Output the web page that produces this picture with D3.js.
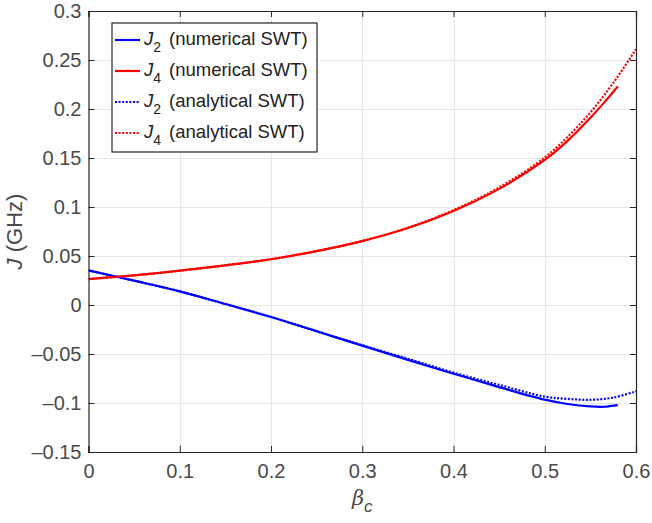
<!DOCTYPE html>
<html><head><meta charset="utf-8">
<script src="https://cdn.jsdelivr.net/npm/d3@7"></script>
<style>
html,body{margin:0;padding:0;background:#fff;}
svg{display:block;font-family:"Liberation Sans",Arial,Helvetica,sans-serif;}
</style></head>
<body><svg id="c" width="652" height="523"></svg>
<script>
// ---- data ----
const betaNum = [0,0.05,0.1,0.15,0.2,0.25,0.3,0.35,0.4,0.45,0.5,0.525,0.55,0.565,0.58];
const betaAna = [0,0.05,0.1,0.15,0.2,0.25,0.3,0.35,0.4,0.45,0.5,0.525,0.55,0.575,0.6];
const J2num = [0.0353,0.0248,0.0139,0.0010,-0.0122,-0.0268,-0.0415,-0.0560,-0.0701,-0.0838,-0.0966,-0.1010,-0.1035,-0.1038,-0.1022];
const J4num = [0.0265,0.0302,0.0350,0.0405,0.0467,0.0550,0.0652,0.0785,0.0960,0.1185,0.1480,0.1675,0.1910,0.2065,0.2230];
const J2ana = [0.0353,0.0248,0.0139,0.0010,-0.0122,-0.0267,-0.0410,-0.0548,-0.0690,-0.0815,-0.0935,-0.0958,-0.0967,-0.0945,-0.0880];
const J4ana = [0.0265,0.0302,0.0350,0.0405,0.0467,0.0550,0.0653,0.0788,0.0968,0.1200,0.1505,0.1715,0.1965,0.2265,0.2610];
const xTicks = [0,0.1,0.2,0.3,0.4,0.5,0.6];
const yTicks = [-0.15,-0.1,-0.05,0,0.05,0.1,0.15,0.2,0.25,0.3];
const seriesNames = ["numerical SWT","numerical SWT","analytical SWT","analytical SWT"];
const seriesSubs = ["2","4","2","4"];

// ---- layout ----
const L=88.5, R=636, T=11, B=452;
const x = d3.scaleLinear().domain([0,0.6]).range([L,R]);
const y = d3.scaleLinear().domain([-0.15,0.3]).range([B,T]);
const svg = d3.select("#c");
const axisCol = "#262626", txtCol = "#4a4a4a";

// grid
const g = svg.append("g");
g.selectAll(".vx").data(xTicks.slice(1,-1)).enter().append("line")
  .attr("x1",d=>Math.round(x(d))+0.5).attr("x2",d=>Math.round(x(d))+0.5)
  .attr("y1",T).attr("y2",B).attr("stroke","#e6e6e6").attr("stroke-width",1.2);
g.selectAll(".hy").data(yTicks.slice(1,-1)).enter().append("line")
  .attr("y1",d=>Math.round(y(d))+0.5).attr("y2",d=>Math.round(y(d))+0.5)
  .attr("x1",L).attr("x2",R).attr("stroke","#e6e6e6").attr("stroke-width",1.2);

// curves
const line = (bs, vs) => d3.line().curve(d3.curveCatmullRom.alpha(0.5))
  .x((d,i)=>x(bs[i])).y(d=>y(d))(vs);
const series = [
  {b:betaNum, v:J2num, c:"#0000ff", dash:null},
  {b:betaNum, v:J4num, c:"#ff0000", dash:null},
  {b:betaAna, v:J2ana, c:"#0000ff", dash:"2,1.6"},
  {b:betaAna, v:J4ana, c:"#ff0000", dash:"2,1.6"}
];
const clip = svg.append("clipPath").attr("id","cp").append("rect")
  .attr("x",L).attr("y",T).attr("width",R-L).attr("height",B-T);
svg.append("g").attr("clip-path","url(#cp)").selectAll("path").data(series).enter().append("path")
  .attr("d",s=>line(s.b,s.v)).attr("fill","none").attr("stroke",s=>s.c)
  .attr("stroke-width",2.2).attr("stroke-dasharray",s=>s.dash);

// axes box
const ax = svg.append("g");
ax.append("g").attr("transform",`translate(0,${B})`)
  .call(d3.axisBottom(x).tickValues(xTicks).tickSize(-6).tickPadding(12).tickFormat(d=>d3.format("")(d)))
  .call(s=>{s.select(".domain").attr("stroke",axisCol);s.selectAll(".tick line").attr("stroke",axisCol);
    s.selectAll(".tick text").attr("fill",txtCol).style("font-size","20px").attr("font-family",null);});
ax.append("g").attr("transform",`translate(${L},0)`)
  .call(d3.axisLeft(y).tickValues(yTicks).tickSize(-6).tickPadding(7).tickFormat(d=>d===0?"0":(d<0?"\u2013":"")+String(Math.abs(d))))
  .call(s=>{s.select(".domain").attr("stroke",axisCol);s.selectAll(".tick line").attr("stroke",axisCol);
    s.selectAll(".tick text").attr("fill",txtCol).style("font-size","20px").attr("font-family",null);});
ax.append("g").attr("transform",`translate(0,${T})`)
  .call(d3.axisTop(x).tickValues(xTicks).tickSize(-6).tickFormat(""))
  .call(s=>{s.select(".domain").attr("stroke",axisCol);s.selectAll(".tick line").attr("stroke",axisCol);});
ax.append("g").attr("transform",`translate(${R},0)`)
  .call(d3.axisRight(y).tickValues(yTicks).tickSize(-6).tickFormat(""))
  .call(s=>{s.select(".domain").attr("stroke",axisCol);s.selectAll(".tick line").attr("stroke",axisCol);});
svg.selectAll(".domain").attr("stroke-width",1.2);

// axis labels
const yl = svg.append("text").attr("transform",`translate(22,${(T+B)/2}) rotate(-90)`)
  .attr("text-anchor","middle").attr("fill",txtCol).style("font-size","22px");
yl.append("tspan").attr("font-style","italic").text("J");
yl.append("tspan").text(" (GHz)");
const xl = svg.append("text").attr("x",(L+R)/2).attr("y",505).attr("text-anchor","middle")
  .attr("fill",txtCol).style("font-size","23px");
xl.append("tspan").attr("font-style","italic").attr("font-family","DejaVu Serif").style("font-size","21px").text("\u03b2");
xl.append("tspan").attr("font-style","italic").attr("dy",7).style("font-size","17px").text("c");

// legend
const lg = svg.append("g");
lg.append("rect").attr("x",112).attr("y",23).attr("width",205).attr("height",129)
  .attr("fill","#fff").attr("stroke",axisCol).attr("stroke-width",1.2);
const rows = lg.selectAll(".row").data(series).enter().append("g")
  .attr("transform",(d,i)=>`translate(0,${45+i*31})`);
rows.append("line").attr("x1",115).attr("x2",140).attr("y1",-5).attr("y2",-5)
  .attr("stroke",d=>d.c).attr("stroke-width",2.2).attr("stroke-dasharray",d=>d.dash);
const tx = rows.append("text").attr("x",144).attr("y",0).attr("fill","#222").style("font-size","18.5px");
tx.append("tspan").attr("font-style","italic").text("J");
tx.append("tspan").attr("dy",7).style("font-size","14px").text((d,i)=>seriesSubs[i]);
tx.append("tspan").attr("dy",-7).attr("x",169).text((d,i)=>"("+seriesNames[i]+")");
</script></body></html>
